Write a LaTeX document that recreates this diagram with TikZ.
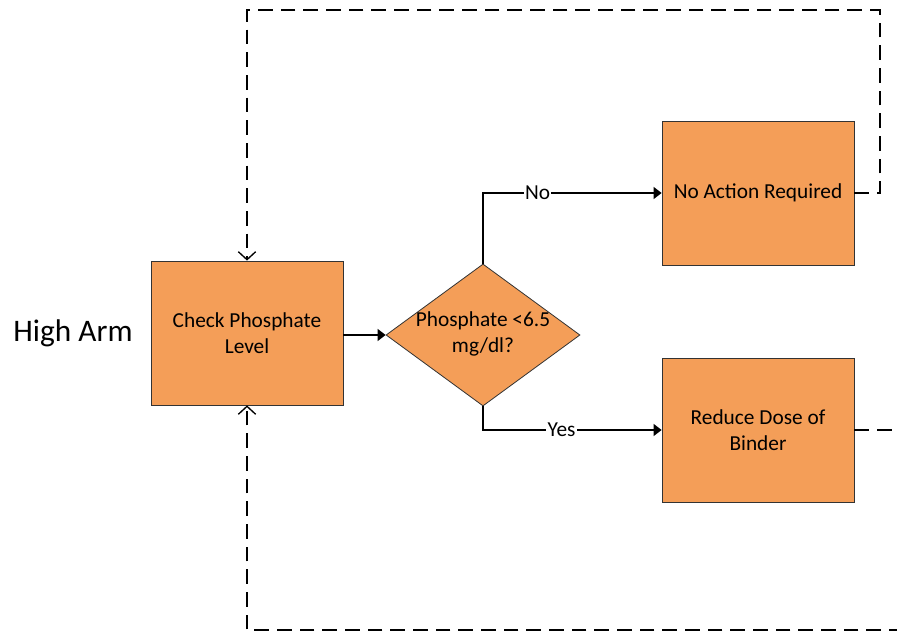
\documentclass[tikz,border=0pt]{standalone}
\usepackage{fontspec}
\setmainfont{Carlito}
\usepackage{xcolor}
\usetikzlibrary{shapes,arrows,positioning,calc,arrows.meta}
\definecolor{boxorange}{RGB}{244,158,88}

\begin{document}
\begin{tikzpicture}[x=0.75pt, y=-0.75pt,
    font=\fontsize{16}{19.5}\selectfont,
    stepbox/.style={rectangle, draw=black!80, line width=0.6pt, fill=boxorange,
        minimum width=144pt, minimum height=108pt, align=center},
    decision/.style={diamond, draw=black!80, line width=0.6pt, fill=boxorange,
        minimum width=145.5pt, minimum height=106.5pt, inner sep=0pt},
    flow/.style={line width=1pt, -{Triangle[length=6pt, width=9pt]}},
    loopline/.style={line width=1pt, dash pattern=on 11pt off 6pt,
        -{Straight Barb[length=6pt, width=13pt]}},
    answer/.style={fill=white, inner sep=1pt}]
    \useasboundingbox (0,0) rectangle (897,635);
    \clip (0,0) rectangle (897,635);
    \node[font=\fontsize{23.5}{28}\selectfont] (arm) at (73,333) {High Arm};
    \node[stepbox] (check) at (247,333) {Check Phosphate\\Level};
    \node[decision, label={[align=center, yshift=1pt]center:Phosphate <6.5\\mg/dl?}] (test) at (483,335) {};
    \node[stepbox] (noact) at (758,193) {No Action Required};
    \node[stepbox] (reduce) at (758,430) {Reduce Dose of\\Binder};
    \coordinate (topright) at (880,10);
    \coordinate (botright) at (915,630);
    % main flow
    \draw[flow] (check.east |- test.west) -- (test.west);
    \draw[flow] (test.north) |- node[answer, pos=0.653] {No} (noact.west);
    \draw[flow] (test.south) |- node[answer, pos=0.72] {Yes} (reduce.west);
    % loops back
    \draw[loopline] (noact.east) -| (topright) -| (check.north);
    \draw[loopline] (reduce.east) -| (botright) -| (check.south);
\end{tikzpicture}
\end{document}
